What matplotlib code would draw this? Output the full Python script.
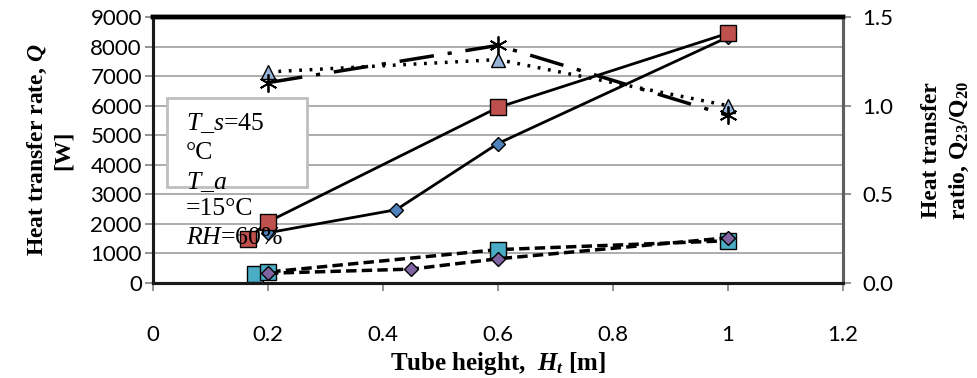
import matplotlib
matplotlib.use("Agg")
import matplotlib.pyplot as plt
from matplotlib.patches import Rectangle

plt.rcParams['mathtext.fontset'] = 'custom'
plt.rcParams['mathtext.rm'] = 'Liberation Serif'
plt.rcParams['mathtext.it'] = 'Liberation Serif:italic'
plt.rcParams['mathtext.bf'] = 'Liberation Serif:bold'
plt.rcParams['mathtext.bfit'] = 'Liberation Serif:bold:italic'

# Données
h_carre_rouge = [0.165, 0.2, 0.6, 1.0]
q_carre_rouge = [1490, 2070, 5940, 8450]
h_losange_bleu = [0.2, 0.423, 0.6, 1.0]
q_losange_bleu = [1700, 2480, 4720, 8320]
h_carre_cyan = [0.177, 0.2, 0.6, 1.0]
q_carre_cyan = [300, 370, 1130, 1430]
h_losange_violet = [0.2, 0.449, 0.6, 1.0]
q_losange_violet = [330, 470, 820, 1530]
h_ratio = [0.2, 0.6, 1.0]
ratio_triangle = [1.19, 1.26, 1.0]
ratio_etoile = [1.13, 1.34, 0.945]

x_ticks = [0, 0.2, 0.4, 0.6, 0.8, 1, 1.2]
x_labels = ['0', '0.2', '0.4', '0.6', '0.8', '1', '1.2']

fig = plt.figure(figsize=(9.77, 3.78), dpi=100)
ax = fig.add_axes([0.1566, 0.2513, 0.7062, 0.7037])
ax2 = ax.twinx()

tick_font = 'Lato'
ax.set_xlim(0, 1.2)
ax.set_ylim(0, 9000)
ax.set_xticks(x_ticks)
ax.set_xticklabels(x_labels, fontfamily=tick_font, fontsize=16)
ax.set_yticks(range(0, 9001, 1000))
ax.set_yticklabels([str(v) for v in range(0, 9001, 1000)], fontfamily=tick_font, fontsize=16)
ax.yaxis.grid(True, color='#a6a6a6', linewidth=1.3)
ax.set_axisbelow(True)
ax.tick_params(axis='x', direction='out', length=6, width=1.2, color='#808080', pad=24)
ax.tick_params(axis='y', direction='out', length=6, width=1.2, color='#808080', pad=2)

ax2.set_ylim(0, 1.5)
ax2.set_yticks([0, 0.5, 1.0, 1.5])
ax2.set_yticklabels(['0.0', '0.5', '1.0', '1.5'], fontfamily=tick_font, fontsize=16)
ax2.tick_params(axis='y', direction='out', length=6, width=1.2, color='#808080', pad=8)

for a in (ax, ax2):
    a.spines['top'].set_linewidth(3.2)
    a.spines['top'].set_color('black')
    a.spines['left'].set_linewidth(2.2)
    a.spines['left'].set_color('#1a1a1a')
    a.spines['bottom'].set_linewidth(2.2)
    a.spines['bottom'].set_color('#1a1a1a')
    a.spines['right'].set_linewidth(2.2)
    a.spines['right'].set_color('#606060')

# Courbes
ax.plot(h_carre_rouge, q_carre_rouge, '-', color='black', lw=2, marker='s', ms=11,
        mfc='#C0504D', mec='black', mew=1, zorder=4)
ax.plot(h_losange_bleu, q_losange_bleu, '-', color='black', lw=2, marker='D', ms=7.5,
        mfc='#4F81BD', mec='black', mew=1, zorder=3)
ax.plot(h_carre_cyan, q_carre_cyan, '--', color='black', lw=2.5, dashes=(3, 1.5), marker='s', ms=11,
        mfc='#4BACC6', mec='black', mew=1, zorder=3)
ax.plot(h_losange_violet, q_losange_violet, '--', color='black', lw=2.5, dashes=(3, 1.5), marker='D', ms=7.5,
        mfc='#8064A2', mec='black', mew=1, zorder=4)

ax2.plot(h_ratio, ratio_triangle, color='black', lw=2.5, dashes=(0.8, 2.2), marker='^', ms=10,
         mfc='#95B3D7', mec='black', mew=1, zorder=3)
ax2.plot(h_ratio, ratio_etoile, color='black', lw=2.5, dashes=(10, 4, 1.2, 4), marker=(6, 2, 0), ms=13,
         mec='black', mew=1.3, zorder=3)

# Encadré des conditions
ax.add_patch(Rectangle((0.024, 3260), 0.244, 2990, facecolor='white', edgecolor='#bfbfbf',
                       linewidth=2, zorder=5))
lignes = [r'$T\_s$=45', '°C', r'$T\_a$', '=15°C', r'$RH$=60%']
y_lignes = [5400, 4415, 3430, 2510, 1530]
for txt, yy in zip(lignes, y_lignes):
    ax.text(0.057, yy, txt, fontfamily='Liberation Serif', fontsize=18.5, va='center', ha='left', zorder=10)

ax.set_xlabel(r'Tube height,  $\mathbfit{H_t}$ [m]', fontfamily='Liberation Serif',
              fontweight='bold', fontsize=18, labelpad=4)
ax.set_ylabel('Heat transfer rate, $\\mathbfit{Q}$\n[W]', fontfamily='Liberation Serif',
              fontweight='bold', fontsize=17, labelpad=12, linespacing=1.25)
ax2.set_ylabel('Heat transfer\nratio, Q$_{\\mathbf{23}}$/Q$_{\\mathbf{20}}$', fontfamily='Liberation Serif',
               fontweight='bold', fontsize=17, labelpad=20, linespacing=1.35)

fig.savefig('out.png', dpi=100)
